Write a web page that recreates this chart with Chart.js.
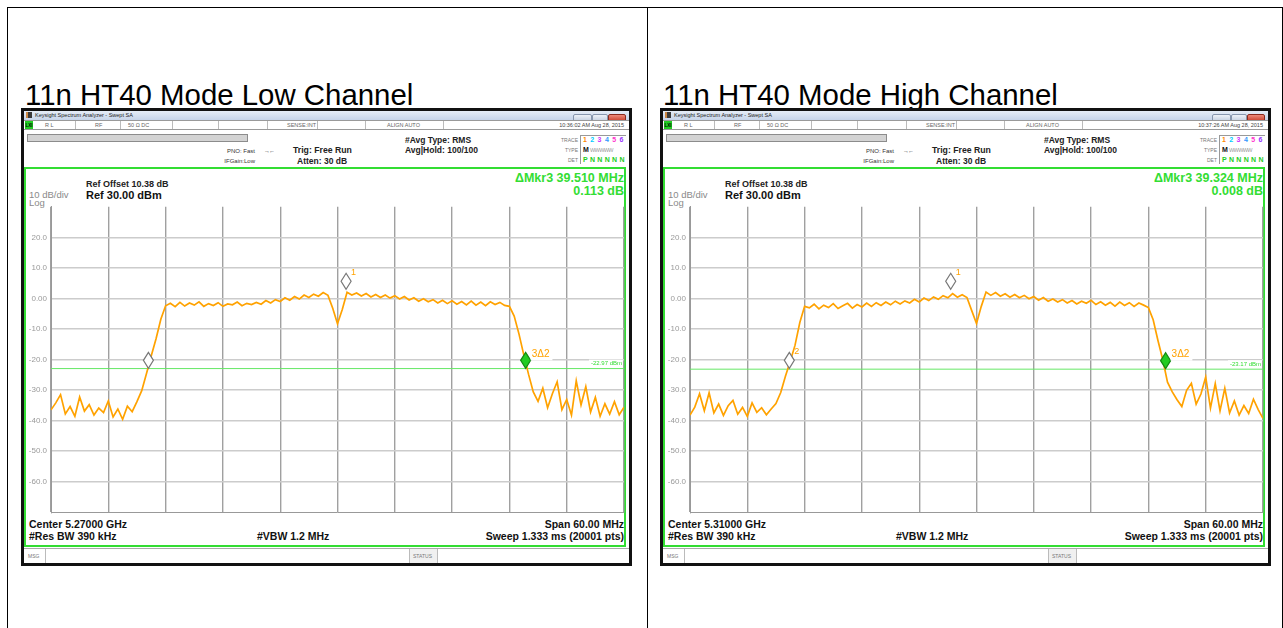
<!DOCTYPE html>
<html>
<head>
<meta charset="utf-8">
<script src="https://cdn.jsdelivr.net/npm/chart.js@4"></script>
<style>
html,body{margin:0;padding:0;background:#fff;}
body{width:1283px;height:628px;position:relative;overflow:hidden;font-family:"Liberation Sans",Arial,sans-serif;}
.ttl{position:absolute;top:80px;font-size:29.4px;line-height:29px;color:#000;white-space:nowrap;}
.sa{position:absolute;top:108px;width:611px;height:458px;}
.sa .b{position:absolute;box-sizing:border-box;}
.sa .t{position:absolute;white-space:nowrap;}
.plot{position:absolute;left:5px;top:90px;width:599px;height:323px;}
</style>
</head>
<body>
<div style="position:absolute;left:7px;top:7px;width:1274px;height:640px;border-left:1px solid #000;border-top:1px solid #000;border-right:1px solid #000;"></div>
<div style="position:absolute;left:647px;top:7px;width:1px;height:621px;background:#000;"></div>
<div class="ttl" style="left:25px;">11n HT40 Mode Low Channel</div>
<div class="ttl" style="left:663px;">11n HT40 Mode High Channel</div>
<div class="sa" id="panelLow" style="left:21px;"></div>
<div class="sa" id="panelHigh" style="left:660px;"></div>
<script>
// frequency offset from center, MHz (span 60 MHz)
var freq = [];
for (var i = 0; i <= 120; i++) freq.push(-30 + i * 0.5);

// trace levels in dBm
var lowTrace = [
  -36.5, -34.2, -31.5, -37.8, -35.4, -38.6, -32.3, -36.9, -34.8, -38.2,
  -35.9, -37.4, -33.6, -38.8, -36.2, -39.6, -35.3, -37.1, -33.8, -30.2,
  -24.6, -18.8, -13.2, -6.8, -2.4, -1.6, -2.7, -1.3, -2.5, -1.5,
  -2.2, -1.1, -2.6, -1.7, -2.3, -1.4, -2.6, -1.8, -2.1, -1.2,
  -2.4, -1.6, -2.0, -1.3, -1.9, -0.7, -1.5, -0.4, -1.0, 0.2,
  -0.6, 0.6, -0.2, 1.1, 0.3, 1.4, 0.7, 1.9, 1.0, -3.2,
  -8.3, -3.6, 2.0, 1.1, 1.8, 0.8, 1.6, 0.5, 1.3, 0.3,
  1.1, 0.1, 0.9, -0.2, 0.6, -0.5, 0.2, -0.9, -0.1, -1.1,
  -0.4, -1.5, -0.6, -1.7, -0.8, -1.9, -1.0, -2.1, -0.9, -2.2,
  -1.2, -2.4, -1.1, -2.0, -1.3, -2.3, -2.6, -5.8, -11.6, -18.4,
  -24.8, -30.6, -33.7, -29.4, -35.8, -31.2, -27.3, -36.4, -33.1, -38.2,
  -27.0, -34.9, -28.9, -37.2, -32.4, -38.6, -34.5, -37.9, -33.8, -38.1,
  -35.6
];
// trace levels in dBm
var highTrace = [
  -38.2, -35.6, -31.2, -36.8, -30.9, -37.5, -34.6, -38.3, -35.1, -33.4,
  -37.9, -35.7, -38.6, -34.2, -37.3, -35.8, -38.1, -36.2, -34.4, -30.8,
  -25.4, -20.6, -15.3, -7.9, -2.6, -3.1, -1.9, -3.4, -2.2, -3.0,
  -1.7, -3.3, -2.4, -1.6, -3.2, -2.0, -2.8, -1.5, -2.6, -1.4,
  -2.3, -1.2, -2.1, -0.9, -1.8, -0.8, -1.5, -0.3, -1.2, 0.1,
  -0.7, 0.5, -0.3, 0.9, 0.2, 1.6, 0.4, 1.2, 0.3, -4.0,
  -8.2, -2.6, 2.1, 1.0, 1.9, 0.7, 1.5, 0.4, 1.3, 0.2,
  1.0, -0.1, 0.6, -0.6, 0.3, -0.9, -0.2, -1.2, -0.4, -1.5,
  -0.7, -1.8, -0.9, -1.6, -0.6, -2.0, -1.1, -2.2, -1.3, -2.5,
  -1.2, -2.3, -1.4, -2.6, -1.5, -2.2, -3.0, -7.0, -13.8, -20.0,
  -27.4, -30.6, -33.2, -35.4, -30.1, -27.8, -34.6, -31.3, -25.7, -35.9,
  -27.9, -36.8, -29.4, -37.5, -33.6, -38.2, -35.1, -37.7, -33.0, -36.4,
  -39.3
];

// markers 1, 2, 3 (MHz offset, dBm)
var lowMkrFreq = [0.9, -19.8, 19.7];
var lowMkrLevel = [3.0, -22.9, -22.9];
var highMkrFreq = [-2.7, -19.6, 19.8];
var highMkrLevel = [3.0, -22.9, -23.0];
var lowDisplayLine = -22.97;
var highDisplayLine = -23.17;

var yTicks = [30, 20, 10, 0, -10, -20, -30, -40, -50, -60, -70];

var GREEN = '#33dd33';
var ORANGE = '#ffa200';

function box(p, x, y, w, h, css) {
  var d = document.createElement('div');
  d.className = 'b';
  d.style.left = x + 'px'; d.style.top = y + 'px';
  d.style.width = w + 'px'; d.style.height = h + 'px';
  Object.assign(d.style, css || {});
  p.appendChild(d);
  return d;
}

function txt(p, x, yc, size, text, css, right) {
  var d = document.createElement('div');
  d.className = 't';
  d.textContent = text;
  var lh = Math.round(size * 1.2);
  d.style.fontSize = size + 'px';
  d.style.lineHeight = lh + 'px';
  d.style.top = (yc - lh / 2) + 'px';
  if (right) d.style.right = (611 - x) + 'px';
  else d.style.left = x + 'px';
  Object.assign(d.style, css || {});
  p.appendChild(d);
  return d;
}

function markerPlugin(mk) {
  return {
    id: 'mk',
    afterDatasetsDraw: function(chart) {
      var ctx = chart.ctx, xs = chart.scales.x, ys = chart.scales.y;
      ctx.save();
      // display line readout
      var ly = ys.getPixelForValue(mk.line);
      ctx.font = '6px "Liberation Sans"';
      var lt = mk.line.toFixed(2) + ' dBm';
      var lw = ctx.measureText(lt).width;
      ctx.fillStyle = '#fff';
      ctx.fillRect(chart.chartArea.right - lw - 4, ly - 9, lw + 3, 7);
      ctx.fillStyle = GREEN;
      ctx.textAlign = 'right';
      ctx.textBaseline = 'middle';
      ctx.fillText(lt, chart.chartArea.right - 2, ly - 5);
      for (var i = 0; i < mk.freq.length; i++) {
        var px = xs.getPixelForValue(mk.freq[i]);
        var py = ys.getPixelForValue(mk.level[i]);
        ctx.beginPath();
        ctx.moveTo(px, py);
        ctx.lineTo(px + 5, py - 8);
        ctx.lineTo(px, py - 16);
        ctx.lineTo(px - 5, py - 8);
        ctx.closePath();
        ctx.fillStyle = i === 2 ? '#22cc22' : '#fff';
        ctx.fill();
        ctx.lineWidth = 1.2;
        ctx.strokeStyle = i === 2 ? '#138a13' : '#777';
        ctx.stroke();
        var lab = mk.labels[i];
        if (lab) {
          ctx.textAlign = 'left';
          if (i === 2) {
            ctx.font = '10px "Liberation Sans"';
            var w = ctx.measureText(lab).width;
            ctx.fillStyle = '#fff';
            ctx.fillRect(px + 5, py - 20, w + 4, 12);
            ctx.fillStyle = ORANGE;
            ctx.fillText(lab, px + 6, py - 14);
          } else {
            ctx.font = '9px "Liberation Sans"';
            ctx.fillStyle = ORANGE;
            ctx.fillText(lab, px + 5, py - 17);
          }
        }
      }
      ctx.restore();
    }
  };
}

function buildPanel(id, cfg) {
  var p = document.getElementById(id);
  box(p, 0, 0, 611, 458, {border: '3px solid #111', background: '#fff'});
  // window title bar
  box(p, 3, 3, 605, 9, {background: 'linear-gradient(#e6edf7,#c6d4e9)'});
  box(p, 5, 4, 6, 6, {background: '#3a3a3a', borderLeft: '2px solid #c84'});
  txt(p, 14, 7.5, 5.5, 'Keysight Spectrum Analyzer - Swept SA', {color: '#222'});
  box(p, 552, 6, 19, 8, {background: 'linear-gradient(#eef2f8,#c3cfe0)', border: '1px solid #8796ad', borderRadius: '2px'});
  box(p, 571, 6, 16, 8, {background: 'linear-gradient(#eef2f8,#c3cfe0)', border: '1px solid #8796ad', borderRadius: '2px'});
  box(p, 587, 6, 18, 8, {background: 'linear-gradient(#ee8a7a,#c9402c)', border: '1px solid #8a2a1e', borderRadius: '2px'});
  // status row
  box(p, 3, 12, 605, 10, {background: '#fff', borderTop: '1px solid #9a9a9a', borderBottom: '1px solid #9a9a9a'});
  [54, 99, 151, 197, 246, 296, 344, 422].forEach(function(x) {
    box(p, x, 13, 1, 8, {background: '#bbb'});
  });
  box(p, 4, 13, 8, 8, {background: '#22cc22'});
  txt(p, 4.5, 17, 4.5, 'LXI', {color: '#000', fontWeight: 'bold'});
  txt(p, 24, 17, 5.5, 'R L', {color: '#666'});
  txt(p, 74, 17, 5.5, 'RF', {color: '#666'});
  txt(p, 107, 17, 5.5, '50 \u03A9   DC', {color: '#666'});
  txt(p, 266, 17, 5.5, 'SENSE:INT', {color: '#666'});
  txt(p, 366, 17, 5.5, 'ALIGN AUTO', {color: '#666'});
  txt(p, 603, 17, 5.5, cfg.date, {color: '#444'}, true);
  // gray info bar
  box(p, 6, 26, 221, 8, {background: '#d3d3d3', border: '1px solid #8c8c8c'});
  txt(p, 234, 43, 6, 'PNO: Fast', {color: '#333'}, true);
  txt(p, 234, 53, 6, 'IFGain:Low', {color: '#333'}, true);
  txt(p, 243, 43, 6, '\u2192\u2190', {color: '#333', letterSpacing: '-1px'});
  txt(p, 272, 42, 8.7, 'Trig: Free Run', {color: '#222', fontWeight: 'bold'});
  txt(p, 276, 53, 8.5, 'Atten: 30 dB', {color: '#222', fontWeight: 'bold'});
  txt(p, 384, 32, 8.5, '#Avg Type: RMS', {color: '#222', fontWeight: 'bold'});
  txt(p, 384, 42, 8.5, 'Avg|Hold: 100/100', {color: '#222', fontWeight: 'bold'});
  // trace table
  txt(p, 557, 32, 5, 'TRACE', {color: '#777'}, true);
  txt(p, 557, 42, 5, 'TYPE', {color: '#777'}, true);
  txt(p, 557, 52, 5, 'DET', {color: '#777'}, true);
  box(p, 559, 27, 46, 29, {borderLeft: '1px solid #999', borderTop: '1px solid #999'});
  var tc = ['#f80', '#0cf', '#c3f', '#39f', '#f3c', '#93f'];
  for (var k = 0; k < 6; k++) {
    txt(p, 562 + k * 7.3, 32, 7, String(k + 1), {color: tc[k], fontWeight: 'bold'});
  }
  txt(p, 562, 42, 7, 'M', {color: '#111', fontWeight: 'bold'});
  txt(p, 569, 42, 5.5, 'WWWWW', {color: '#999', letterSpacing: '-0.6px'});
  txt(p, 562, 52, 7, 'P N N N N N', {color: '#2c2', fontWeight: 'bold', letterSpacing: '0.2px'});
  // green measurement frame
  box(p, 3, 59, 602, 380, {border: '2px solid ' + GREEN});
  txt(p, 8, 86, 9.5, '10 dB/div', {color: '#8a8a8a'});
  txt(p, 8, 94.5, 9.5, 'Log', {color: '#8a8a8a'});
  txt(p, 65, 76, 9, 'Ref Offset 10.38 dB', {color: '#222', fontWeight: 'bold'});
  txt(p, 65, 87, 11, 'Ref 30.00 dBm', {color: '#111', fontWeight: 'bold'});
  txt(p, 603, 70, 12.5, cfg.mkr, {color: GREEN, fontWeight: 'bold'}, true);
  txt(p, 603, 83.5, 12.5, cfg.delta, {color: GREEN, fontWeight: 'bold'}, true);
  txt(p, 8, 416, 10.5, cfg.center, {color: '#111', fontWeight: 'bold'});
  txt(p, 8, 428, 10.5, '#Res BW 390 kHz', {color: '#111', fontWeight: 'bold'});
  txt(p, 236, 428, 10.5, '#VBW 1.2 MHz', {color: '#111', fontWeight: 'bold'});
  txt(p, 603, 416, 10.5, 'Span 60.00 MHz', {color: '#111', fontWeight: 'bold'}, true);
  txt(p, 603, 428, 10.5, 'Sweep  1.333 ms (20001 pts)', {color: '#111', fontWeight: 'bold'}, true);
  // message / status bar
  box(p, 3, 440, 605, 15, {borderTop: '1px solid #aaa'});
  box(p, 24, 441, 1, 14, {background: '#bbb'});
  txt(p, 7, 448, 5, 'MSG', {color: '#777'});
  box(p, 388, 441, 29, 14, {background: '#f0f0f0', borderLeft: '1px solid #bbb', borderRight: '1px solid #bbb'});
  txt(p, 392, 448, 5, 'STATUS', {color: '#777'});

  var holder = document.createElement('div');
  holder.className = 'plot';
  var cv = document.createElement('canvas');
  holder.appendChild(cv);
  p.appendChild(holder);

  new Chart(cv.getContext('2d'), {
    type: 'line',
    data: {
      datasets: [
        {
          data: freq.map(function(f, i) { return {x: f, y: cfg.trace[i]}; }),
          borderColor: ORANGE, borderWidth: 1.7, pointRadius: 0, tension: 0
        },
        {
          data: [{x: -30, y: cfg.line}, {x: 30, y: cfg.line}],
          borderColor: '#66e866', borderWidth: 1, pointRadius: 0
        }
      ]
    },
    options: {
      responsive: true, maintainAspectRatio: false, animation: false,
      layout: {padding: {top: 6, bottom: 6, left: 0, right: 1}},
      plugins: {legend: {display: false}, tooltip: {enabled: false}},
      scales: {
        x: {
          type: 'linear', min: -30, max: 30,
          ticks: {display: false, stepSize: 6},
          grid: {color: '#a0a0a0', lineWidth: 1.4, drawTicks: false},
          border: {color: '#999'}
        },
        y: {
          min: -70, max: 30,
          afterBuildTicks: function(s) { s.ticks = yTicks.map(function(v) { return {value: v}; }); },
          afterFit: function(s) { s.width = 25; },
          ticks: {
            padding: 4, color: '#9a9a9a', font: {size: 8, family: 'Liberation Sans'},
            callback: function(v) {
              if (v === 30 || v === -70) return null;
              return v === 0 ? '0.00' : v.toFixed(1);
            }
          },
          grid: {
            drawTicks: false, lineWidth: 1.4,
            color: function(c) { return c.tick && c.tick.value === 30 ? '#a0a0a0' : '#cccccc'; }
          },
          border: {color: '#999'}
        }
      }
    },
    plugins: [markerPlugin({freq: cfg.mkFreq, level: cfg.mkLevel, labels: cfg.mkLabels, line: cfg.line})]
  });
}

buildPanel('panelLow', {
  date: '10:36:02 AM Aug 28, 2015', mkr: '\u0394Mkr3 39.510 MHz', delta: '0.113 dB',
  center: 'Center 5.27000 GHz', trace: lowTrace, line: lowDisplayLine,
  mkFreq: lowMkrFreq, mkLevel: lowMkrLevel, mkLabels: ['1', '', '3\u03942']
});
buildPanel('panelHigh', {
  date: '10:37:26 AM Aug 28, 2015', mkr: '\u0394Mkr3 39.324 MHz', delta: '0.008 dB',
  center: 'Center 5.31000 GHz', trace: highTrace, line: highDisplayLine,
  mkFreq: highMkrFreq, mkLevel: highMkrLevel, mkLabels: ['1', '2', '3\u03942']
});
</script>
</body>
</html>
